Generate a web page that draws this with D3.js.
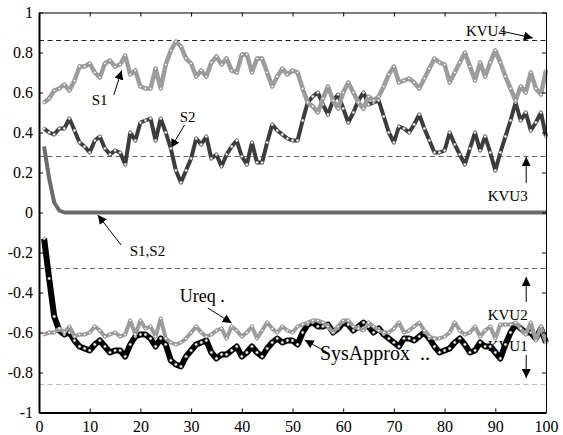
<!DOCTYPE html>
<html>
<head>
<meta charset="utf-8">
<script src="https://cdn.jsdelivr.net/npm/d3@7"></script>
<style>
  body { margin: 0; background: #fff; }
  svg text { font-family: "Liberation Serif", "DejaVu Serif", "Times New Roman", serif !important; }
</style>
</head>
<body>
<div id="chart"></div>
<script>
// time steps on the x axis
const steps = d3.range(1, 101);

const s1 = [0.55, 0.57, 0.61, 0.62, 0.64, 0.61, 0.66, 0.73, 0.73, 0.745,
  0.70, 0.675, 0.745, 0.76, 0.73, 0.74, 0.785, 0.69, 0.71, 0.63,
  0.62, 0.62, 0.72, 0.62, 0.74, 0.81, 0.855, 0.83, 0.77, 0.745,
  0.68, 0.71, 0.68, 0.75, 0.78, 0.74, 0.77, 0.71, 0.70, 0.79,
  0.79, 0.70, 0.77, 0.77, 0.70, 0.63, 0.68, 0.72, 0.69, 0.71,
  0.70, 0.62, 0.55, 0.53, 0.50, 0.57, 0.63, 0.56, 0.52, 0.60,
  0.65, 0.60, 0.55, 0.52, 0.58, 0.56, 0.58, 0.63, 0.69, 0.73,
  0.65, 0.66, 0.67, 0.65, 0.62, 0.67, 0.72, 0.77, 0.75, 0.74,
  0.65, 0.70, 0.75, 0.80, 0.73, 0.66, 0.75, 0.68, 0.75, 0.81,
  0.75, 0.68, 0.62, 0.56, 0.63, 0.60, 0.70, 0.62, 0.59, 0.71];

const s2 = [0.42, 0.40, 0.39, 0.42, 0.42, 0.47, 0.41, 0.35, 0.33, 0.30,
  0.36, 0.38, 0.32, 0.29, 0.31, 0.30, 0.24, 0.40, 0.36, 0.45,
  0.46, 0.47, 0.36, 0.47, 0.40, 0.32, 0.21, 0.15, 0.21, 0.27,
  0.37, 0.34, 0.38, 0.27, 0.29, 0.23, 0.29, 0.33, 0.36, 0.28,
  0.24, 0.35, 0.25, 0.25, 0.35, 0.44, 0.41, 0.39, 0.37, 0.36,
  0.36, 0.46, 0.55, 0.58, 0.60, 0.54, 0.49, 0.56, 0.59, 0.52,
  0.45, 0.50, 0.56, 0.60, 0.54, 0.55, 0.56, 0.48, 0.40, 0.35,
  0.43, 0.42, 0.40, 0.44, 0.49, 0.42, 0.36, 0.30, 0.30, 0.31,
  0.40, 0.34, 0.29, 0.24, 0.32, 0.40, 0.31, 0.38, 0.30, 0.21,
  0.30, 0.38, 0.46, 0.55, 0.46, 0.50, 0.41, 0.45, 0.50, 0.38];

const s12 = [0.33, 0.17, 0.05, 0.01, 0, 0, 0, 0, 0, 0,
  0, 0, 0, 0, 0, 0, 0, 0, 0, 0,
  0, 0, 0, 0, 0, 0, 0, 0, 0, 0,
  0, 0, 0, 0, 0, 0, 0, 0, 0, 0,
  0, 0, 0, 0, 0, 0, 0, 0, 0, 0,
  0, 0, 0, 0, 0, 0, 0, 0, 0, 0,
  0, 0, 0, 0, 0, 0, 0, 0, 0, 0,
  0, 0, 0, 0, 0, 0, 0, 0, 0, 0,
  0, 0, 0, 0, 0, 0, 0, 0, 0, 0,
  0, 0, 0, 0, 0, 0, 0, 0, 0, 0];

const sysApprox = [-0.13, -0.33, -0.52, -0.59, -0.61, -0.60, -0.64, -0.67, -0.68, -0.69,
  -0.66, -0.64, -0.67, -0.70, -0.69, -0.69, -0.72, -0.66, -0.62, -0.61,
  -0.61, -0.63, -0.67, -0.63, -0.66, -0.74, -0.76, -0.77, -0.72, -0.69,
  -0.66, -0.65, -0.64, -0.70, -0.73, -0.71, -0.71, -0.69, -0.67, -0.72,
  -0.70, -0.67, -0.70, -0.72, -0.68, -0.65, -0.63, -0.65, -0.64, -0.64,
  -0.66, -0.60, -0.56, -0.55, -0.57, -0.57, -0.56, -0.60, -0.58, -0.55,
  -0.56, -0.59, -0.57, -0.55, -0.57, -0.60, -0.58, -0.61, -0.63, -0.65,
  -0.67, -0.63, -0.63, -0.64, -0.62, -0.60, -0.63, -0.67, -0.70, -0.69,
  -0.68, -0.65, -0.63, -0.66, -0.70, -0.69, -0.65, -0.67, -0.67, -0.70,
  -0.73, -0.66, -0.60, -0.56, -0.58, -0.60, -0.60, -0.63, -0.58, -0.65];

const ureq = [-0.61, -0.60, -0.60, -0.58, -0.60, -0.57, -0.62, -0.61, -0.61, -0.60,
  -0.57, -0.59, -0.62, -0.61, -0.60, -0.62, -0.61, -0.54, -0.61, -0.54,
  -0.58, -0.57, -0.62, -0.53, -0.63, -0.65, -0.66, -0.65, -0.63, -0.60,
  -0.57, -0.60, -0.62, -0.61, -0.59, -0.58, -0.63, -0.57, -0.59, -0.62,
  -0.60, -0.57, -0.63, -0.59, -0.55, -0.58, -0.60, -0.57, -0.59, -0.60,
  -0.57, -0.56, -0.55, -0.54, -0.54, -0.55, -0.57, -0.60, -0.57, -0.54,
  -0.54, -0.57, -0.58, -0.59, -0.55, -0.57, -0.59, -0.60, -0.60, -0.58,
  -0.55, -0.60, -0.59, -0.57, -0.55, -0.59, -0.62, -0.63, -0.63, -0.62,
  -0.60, -0.55, -0.59, -0.61, -0.60, -0.57, -0.62, -0.59, -0.57, -0.63,
  -0.56, -0.56, -0.56, -0.55, -0.58, -0.61, -0.55, -0.64, -0.57, -0.65];

// threshold levels
const kvuNames = ["KVU4", "KVU3", "KVU2", "KVU1"];
const kvuValues = [0.86, 0.28, -0.28, -0.86];

const xTicks = [0, 10, 20, 30, 40, 50, 60, 70, 80, 90, 100];
const yTicks = [1, 0.8, 0.6, 0.4, 0.2, 0, -0.2, -0.4, -0.6, -0.8, -1];

const serif = "'Liberation Serif', 'DejaVu Serif', 'Times New Roman', serif";

const margin = { top: 12.5, right: 17, bottom: 22.5, left: 39 };
const width = 563 - margin.left - margin.right;
const height = 435 - margin.top - margin.bottom;

const svg = d3.select("#chart").append("svg")
    .attr("width", 563)
    .attr("height", 435);

const defs = svg.append("defs");
defs.append("marker")
    .attr("id", "arrow")
    .attr("viewBox", "0 0 10 10")
    .attr("refX", 10).attr("refY", 5)
    .attr("markerWidth", 9).attr("markerHeight", 9)
    .attr("markerUnits", "userSpaceOnUse")
    .attr("orient", "auto")
    .append("path")
    .attr("d", "M0,0 L10,5 L0,10 Z")
    .attr("fill", "#000");

const g = svg.append("g")
    .attr("transform", `translate(${margin.left},${margin.top})`);

const x = d3.scaleLinear().domain([0, 100]).range([0, width]);
const y = d3.scaleLinear().domain([-1, 1]).range([height, 0]);

// dashed threshold lines
const kvuColors = ["#222", "#666", "#666", "#bbb"];
g.selectAll(".kvu")
    .data(kvuValues)
    .enter().append("line")
    .attr("class", "kvu")
    .attr("x1", 0).attr("x2", width)
    .attr("y1", d => y(d)).attr("y2", d => y(d))
    .attr("stroke", (d, i) => kvuColors[i])
    .attr("stroke-width", 1.2)
    .attr("stroke-dasharray", "5,3.5");

// annotation labels (drawn under the lines)
const labels = [
  { text: kvuNames[0], t: 84.2, v: 0.8825, size: 15, from: [91.1, 0.9075], to: [97.4, 0.8725] },
  { text: "S1", t: 10.4, v: 0.5375, size: 15, from: [14.75, 0.5875], to: [16.3, 0.71] },
  { text: "S2", t: 27.75, v: 0.4525, size: 15, from: [28.7, 0.4375], to: [26, 0.3225] },
  { text: kvuNames[1], t: 88.5, v: 0.0575, size: 15, from: [96.1, 0.1475], to: [96.1, 0.2775] },
  { text: "S1,S2", t: 17.9, v: -0.2175, size: 15, from: [16.2, -0.1625], to: [11.6, -0.0125] },
  { text: "Ureq .", t: 27.75, v: -0.4475, size: 18, from: [33.3, -0.4775], to: [38, -0.5525] },
  { text: "SysApprox  ..", t: 55.4, v: -0.7375, size: 20, from: [56.7, -0.6975], to: [52.4, -0.6375] },
  { text: kvuNames[2], t: 88.5, v: -0.5375, size: 15, from: [96.1, -0.4475], to: [96.1, -0.3225] },
  { text: kvuNames[3], t: 88.5, v: -0.6925, size: 15, from: [96.1, -0.7125], to: [96.1, -0.8275] }
];

g.selectAll(".label")
    .data(labels)
    .enter().append("text")
    .attr("class", "label")
    .attr("x", d => x(d.t))
    .attr("y", d => y(d.v))
    .attr("font-family", serif)
    .style("font-size", d => d.size + "px")
    .style("white-space", "pre")
    .attr("fill", "#000")
    .text(d => d.text);

g.selectAll(".arrow")
    .data(labels)
    .enter().append("line")
    .attr("class", "arrow")
    .attr("x1", d => x(d.from[0])).attr("y1", d => y(d.from[1]))
    .attr("x2", d => x(d.to[0])).attr("y2", d => y(d.to[1]))
    .attr("stroke", "#000")
    .attr("stroke-width", 1)
    .attr("marker-end", "url(#arrow)");

// series
const series = [
  { values: s12, color: "#6a6a6a", width: 4, dots: false },
  { values: s2, color: "#3c3c3c", width: 4, dots: true },
  { values: s1, color: "#9c9c9c", width: 4.5, dots: true },
  { values: sysApprox, color: "#000", width: 6, dots: true },
  { values: ureq, color: "#9c9c9c", width: 4, dots: true }
];

const line = d3.line()
    .x(d => x(d[0]))
    .y(d => y(d[1]));

series.forEach(function(s) {
  let pts = steps.map((t, i) => [t, s.values[i]]);
  g.append("path")
      .datum(pts)
      .attr("fill", "none")
      .attr("stroke", s.color)
      .attr("stroke-width", s.width)
      .attr("stroke-linejoin", "round")
      .attr("d", line);

  if (s.dots) {
    g.append("g").selectAll("circle")
        .data(pts)
        .enter().append("circle")
        .attr("cx", d => x(d[0]))
        .attr("cy", d => y(d[1]))
        .attr("r", 1.4)
        .attr("fill", "#fff")
        .attr("stroke", "#666")
        .attr("stroke-width", 0.6);
  }
});

// frame: light top/right, heavy left/bottom
g.append("g")
    .call(d3.axisTop(x).tickValues(xTicks).tickSizeInner(-4).tickSizeOuter(0).tickFormat(""))
    .call(a => a.selectAll("path, line").attr("stroke", "#000").attr("stroke-width", 1));

g.append("g")
    .attr("transform", `translate(${width},0)`)
    .call(d3.axisRight(y).tickValues(yTicks).tickSizeInner(-4).tickSizeOuter(0).tickFormat(""))
    .call(a => a.selectAll("path, line").attr("stroke", "#000").attr("stroke-width", 1));

g.append("g")
    .attr("transform", `translate(0,${height})`)
    .attr("font-family", serif)
    .call(d3.axisBottom(x).tickValues(xTicks).tickSizeInner(-4).tickSizeOuter(0).tickPadding(8).tickFormat(d => String(d)))
    .call(a => a.select(".domain").attr("stroke-width", 2))
    .call(a => a.selectAll(".tick line").attr("stroke-width", 1))
    .call(a => a.selectAll("text")
        .attr("font-family", serif)
        .style("font-size", "16px")
        .attr("fill", "#000"));

g.append("g")
    .attr("font-family", serif)
    .call(d3.axisLeft(y).tickValues(yTicks).tickSizeInner(-4).tickSizeOuter(0).tickPadding(6).tickFormat(d => String(d)))
    .call(a => a.select(".domain").attr("stroke-width", 2))
    .call(a => a.selectAll(".tick line").attr("stroke-width", 1))
    .call(a => a.selectAll("text")
        .attr("font-family", serif)
        .style("font-size", "16px")
        .attr("fill", "#000"));
</script>
</body>
</html>
